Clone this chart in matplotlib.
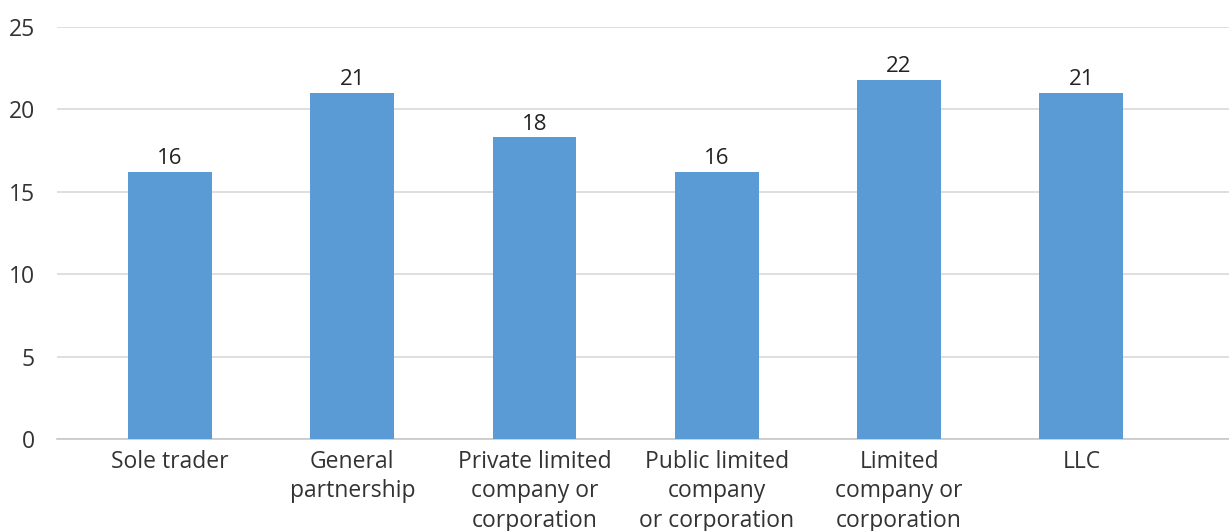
import matplotlib.pyplot as plt

categories = ["Sole trader", "General\npartnership", "Private limited\ncompany or\ncorporation",
              "Public limited\ncompany\nor corporation", "Limited\ncompany or\ncorporation", "LLC"]
values = [16.2, 21.0, 18.3, 16.2, 21.8, 21.0]
labels = ["16", "21", "18", "16", "22", "21"]

fig = plt.figure(figsize=(12.29, 5.31), dpi=100)
ax = fig.add_axes([0.0464, 0.1733, 0.9536, 0.7758])

x = range(len(categories))
bars = ax.bar(x, values, width=0.46, color="#5B9BD5", zorder=3)
for b, lab in zip(bars, labels):
    ax.annotate(lab, (b.get_x() + b.get_width() / 2, b.get_height()),
                xytext=(0, 2), textcoords="offset points", ha="center", va="bottom",
                fontsize=16, color="#222222", family="Open Sans")

ax.set_ylim(0, 25)
ax.set_xlim(-0.62, 5.81)
ax.set_yticks(range(0, 26, 5))
ax.set_xticks(list(x))
ax.set_xticklabels(categories, fontsize=16.5, color="#333333", family="Open Sans", linespacing=1.3, va="top")
ax.tick_params(axis="y", labelsize=16.5, labelcolor="#333333", length=0, pad=16)
ax.tick_params(axis="x", length=0, pad=8)
for t in ax.get_yticklabels():
    t.set_family("Open Sans")
ax.yaxis.grid(True, color="#d9d9d9", linewidth=1.2, zorder=0)
for s in ["top", "right", "left"]:
    ax.spines[s].set_visible(False)
ax.spines["bottom"].set_color("#c8c8c8")
ax.spines["bottom"].set_linewidth(1.2)

fig.savefig("out.png", dpi=100)
